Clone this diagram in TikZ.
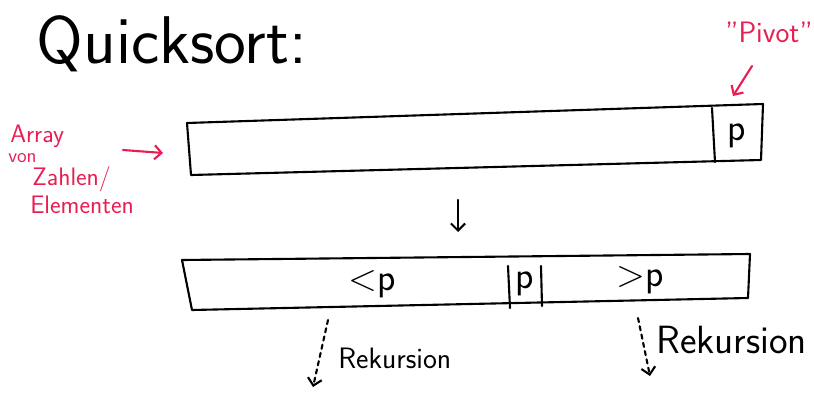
\documentclass[tikz,border=0pt]{standalone}
\usepackage{fontspec}
\usetikzlibrary{positioning,arrows.meta}

\definecolor{penred}{RGB}{232,30,82}

\tikzset{
  sketch/.style={line width=1.5pt, line cap=round, line join=round},
  redpen/.style={penred, line width=1.5pt, line cap=round},
  headline/.style={font=\sffamily\fontsize{48}{52}\selectfont},
  cell/.style={font=\sffamily\fontsize{27}{29}\selectfont},
  redtext/.style={penred, font=\sffamily\fontsize{18}{20}\selectfont, inner sep=0pt, anchor=west},
  recnote/.style={font=\sffamily\fontsize{21}{23}\selectfont, anchor=west, inner sep=0pt},
}

\begin{document}
\begin{tikzpicture}[x=0.025cm, y=-0.025cm, >={Straight Barb[length=5pt,width=10pt]}]
  \useasboundingbox (0,0) rectangle (814,394);

  % 1. Title
  \node[headline] (title) at (172,44) {Quicksort:};

  % 2. Input array with the pivot in the last cell
  \draw[sketch] (187,123) -- (763,104) -- (761,160) -- (191,175) -- cycle;
  \draw[sketch] (712,108) -- (715,162);
  \node[cell] (ptop) at (737,136) {p};

  % 3. Red notes: "Pivot" and the array label
  \node[penred, font=\sffamily\fontsize{21}{23}\selectfont] (pivot) at (769,32) {"Pivot"};
  \coordinate (pivfrom) at (752,66);
  \coordinate (pivto) at (733,96);
  \draw[redpen, ->] (pivfrom) -- (pivto);

  \node[redtext] (arr) at (10,136) {Array};
  \node[redtext, font=\sffamily\fontsize{14}{16}\selectfont] (von) at (8,158) {von};
  \node[redtext] (zahl) at (32,179) {Zahlen/};
  \node[redtext] (elem) at (30,205) {Elementen};
  \coordinate (arrfrom) at (123,150);
  \coordinate (arrto) at (163,153);
  \draw[redpen, ->] (arrfrom) -- (arrto);

  % 4. Partition step
  \coordinate (stepfrom) at (458,200);
  \coordinate (stepto) at (458,232);
  \draw[sketch, ->] (stepfrom) -- (stepto);

  % 5. Partitioned array: < p | p | > p
  \draw[sketch] (182,260) -- (750,254) -- (748,298) -- (192,310) -- cycle;
  \draw[sketch] (508,266) -- (510,308);
  \draw[sketch] (541,266) -- (542,306);
  \node[cell] (less) at (372,284) {<p};
  \node[cell] (pmid) at (525,284) {p};
  \node[cell] (more) at (640,280) {>p};

  % 6. Recursive calls on both halves
  \foreach \name/\x/\y/\xe/\ye/\lx/\ly/\fs in {recl/328/320/313/387/338/358/21, recr/638/318/650/376/656/340/28} {
    \coordinate (\name from) at (\x,\y);
    \coordinate (\name to) at (\xe,\ye);
    \draw[sketch, dashed, ->] (\name from) -- (\name to);
    \node[recnote, font=\sffamily\fontsize{\fs}{\fs}\selectfont] (\name text) at (\lx,\ly) {Rekursion};
  }

\end{tikzpicture}
\end{document}
